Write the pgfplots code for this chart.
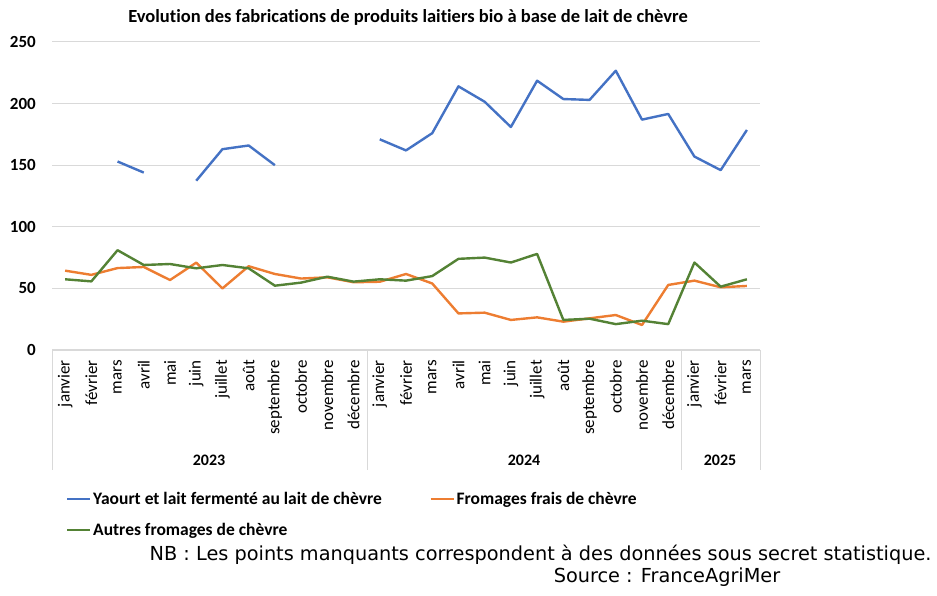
\documentclass[border=0pt]{standalone}
\usepackage{pgfplots}
\pgfplotsset{compat=1.18}
\usepackage{pgfplotstable}
\usepackage{fontspec}
\setmainfont[Ligatures=NoCommon]{Carlito}
\newfontfamily\notefont{DejaVu Sans}

\definecolor{cblue}{HTML}{4472C4}
\definecolor{corange}{HTML}{ED7D31}
\definecolor{cgreen}{HTML}{548235}
\definecolor{cgrid}{HTML}{D9D9D9}

% idx  yaourt  frais  autres  (janvier 2023 -> mars 2025)
\pgfplotstableread{
idx yaourt frais autres
0  nan   64.4 57.4
1  nan   61.0 55.7
2  153.0 66.5 81.0
3  144.0 67.4 69.0
4  nan   56.8 69.8
5  137.4 70.9 66.3
6  163.0 50.0 69.0
7  166.0 68.0 66.3
8  150.0 61.7 52.2
9  nan   58.0 54.7
10 nan   59.0 59.5
11 nan   55.0 55.5
12 171.0 55.4 57.4
13 162.0 61.7 56.3
14 176.0 54.0 60.0
15 214.0 29.7 74.0
16 201.5 30.3 75.0
17 181.0 24.4 71.0
18 218.6 26.5 78.0
19 203.7 23.0 24.4
20 203.0 25.7 25.4
21 226.7 28.4 21.0
22 187.0 20.3 23.8
23 191.6 52.8 21.0
24 157.0 56.3 71.0
25 146.0 50.9 51.4
26 178.6 52.0 57.4
}\datatab

\begin{document}
\begin{tikzpicture}
\path[use as bounding box] (0pt,0pt) rectangle (937pt,595pt);
\begin{axis}[
    at={(52pt,245pt)}, anchor=south west,
    scale only axis,
    width=708pt, height=308pt,
    xmin=-0.5, xmax=26.5,
    ymin=0, ymax=250,
    ytick={0,50,100,150,200,250},
    xtick={0,...,26},
    xticklabels={janvier,février,mars,avril,mai,juin,juillet,août,septembre,octobre,novembre,décembre,
                 janvier,février,mars,avril,mai,juin,juillet,août,septembre,octobre,novembre,décembre,
                 janvier,février,mars},
    xticklabel style={rotate=90, anchor=east, font=\fontsize{17}{17}\selectfont, inner sep=0pt},
    xticklabel shift=10pt,
    yticklabel style={font=\fontsize{17}{17}\selectfont\bfseries, inner sep=0pt},
    yticklabel shift=16pt,
    /pgf/number format/assume math mode=true,
    major tick length=0pt,
    axis line style={draw=none},
    ymajorgrids, grid style={cgrid, line width=1pt},
    unbounded coords=jump,
    clip=false,
    every axis plot/.append style={line width=2.4pt, line join=round},
    legend style={at={(rel axis cs:0.02,-0.455)}, anchor=north west, draw=none,
        font=\fontsize{17.5}{17.5}\selectfont\bfseries, inner sep=0pt,
        legend columns=2, row sep=13pt,
        /tikz/every even column/.append style={column sep=46pt}},
    legend cell align=left,
]
\addplot[cblue, legend image code/.code={\draw[cblue, line width=1.8pt] (0pt,0pt) -- (23pt,0pt);}]
  table[x=idx, y=yaourt] {\datatab};
\addlegendentry{Yaourt et lait fermenté au lait de chèvre}
\addplot[corange, legend image code/.code={\draw[corange, line width=1.8pt] (0pt,0pt) -- (23pt,0pt);}]
  table[x=idx, y=frais] {\datatab};
\addlegendentry{Fromages frais de chèvre}
\addplot[cgreen, legend image code/.code={\draw[cgreen, line width=1.8pt] (0pt,0pt) -- (23pt,0pt);}]
  table[x=idx, y=autres] {\datatab};
\addlegendentry{Autres fromages de chèvre}
\end{axis}
% category box under the axis
\draw[cgrid, line width=1pt] (52pt,245pt) -- (760pt,245pt);
\foreach \xx in {52,367,681,760}
  \draw[cgrid, line width=1pt] (\xx pt,245pt) -- (\xx pt,125pt);
\begin{scope}[font=\fontsize{16}{16}\selectfont\bfseries]
\node at (209pt,135pt) {2023};
\node at (524pt,135pt) {2024};
\node at (720pt,135pt) {2025};
\end{scope}
\node[font=\fontsize{18.5}{18.5}\selectfont\bfseries] at (408pt,578pt)
  {Evolution des fabrications de produits laitiers bio à base de lait de chèvre};
\node[font=\notefont\fontsize{19.3}{19.3}\selectfont, anchor=east] at (935pt,40pt)
  {NB : Les points manquants correspondent à des données sous secret statistique.};
\node[font=\notefont\fontsize{19.3}{19.3}\selectfont] at (667pt,18pt)
  {Source : FranceAgriMer};
\end{tikzpicture}
\end{document}
